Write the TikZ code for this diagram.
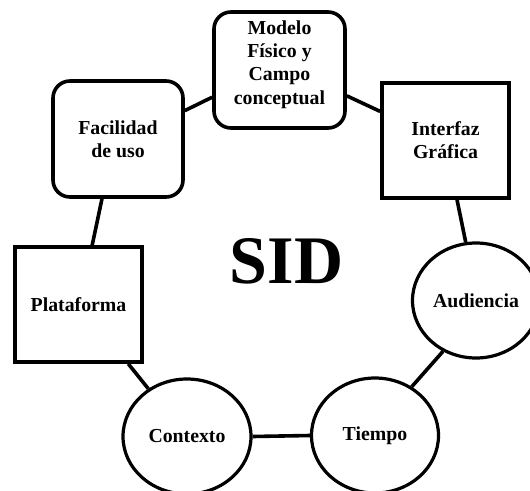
\documentclass[tikz,border=0pt]{standalone}
\usepackage{fontspec}
\setmainfont{Liberation Serif}
\usetikzlibrary{shapes.geometric}
\begin{document}
\begin{tikzpicture}[x=1pt,y=-1pt,
  label font/.style={font=\fontsize{19.8}{23.2}\selectfont\bfseries},
  box/.style={draw, line width=3.6pt, inner sep=0pt, minimum width=127pt,
    minimum height=115pt, align=center, label font},
  roundbox/.style={box, rounded corners=17pt},
  oval/.style={draw, ellipse, line width=3.2pt, inner sep=0pt,
    minimum width=127pt, minimum height=115pt, align=center, label font},
  link/.style={line width=3.6pt}]
\useasboundingbox (0,0) rectangle (530,490);

% the seven aspects around the ring
\node[roundbox, minimum width=131pt, minimum height=116pt] (modelo) at (279.5,70)
  {Modelo\\Físico y\\Campo\\conceptual\\[-8pt]};
\node[roundbox, minimum width=130pt, minimum height=116pt] (facil) at (118,139)
  {Facilidad\\de uso};
\node[box] (interfaz) at (445.5,140.5) {Interfaz\\Gráfica};
\node[box] (plat) at (78.5,304.5) {Plataforma};
\node[oval] (aud) at (476,300.5) {Audiencia};
\node[oval] (tiempo) at (375,435.5) {Tiempo};
\node[oval, minimum width=128pt] (ctx) at (187,436.5) {Contexto};

% title in the middle
\node[font=\fontsize{68}{68}\selectfont\bfseries, anchor=base, inner sep=0pt] (sid)
  at (286.5,283) {SID};

% ring of links
\draw[link] (facil.23) -- (modelo.202);
\draw[link] (modelo.339) -- (interfaz.156);
\draw[link] (interfaz.281) -- (aud.100);
\draw[link] (aud.237) -- (tiempo.53);
\draw[link] (tiempo.180) -- (ctx.0);
\draw[link] (ctx.129) -- (plat.310);
\draw[link] (plat.77) -- (facil.255);
\end{tikzpicture}
\end{document}
